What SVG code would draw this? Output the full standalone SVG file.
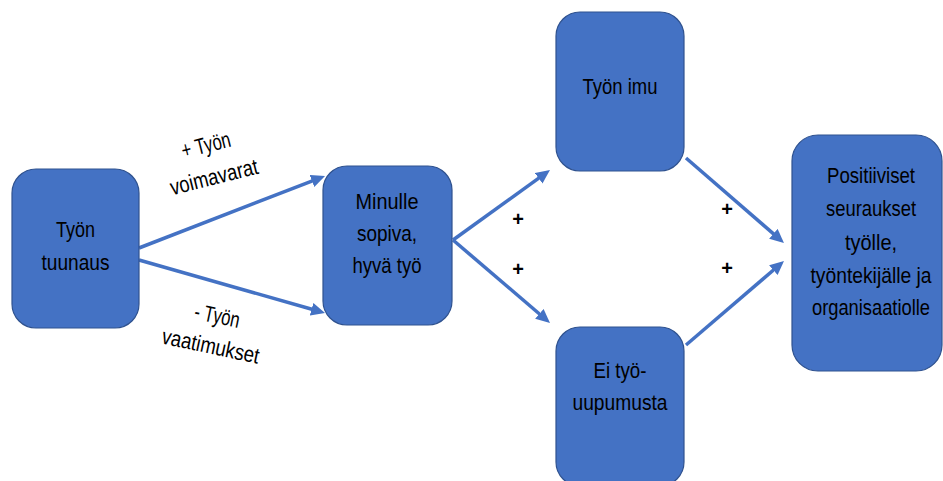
<svg xmlns="http://www.w3.org/2000/svg" width="943" height="481" viewBox="0 0 943 481">
  <style>
    .box { fill: #4472C4; stroke: #2F528F; stroke-width: 1.2; }
    .lbl { font-family: "Liberation Sans", Arial, sans-serif; font-size: 22.5px; fill: #000; text-anchor: middle; }
    .plus { font-family: "Liberation Sans", Arial, sans-serif; font-size: 20px; font-weight: bold; fill: #000; text-anchor: middle; }
    .link { stroke: #4472C4; stroke-width: 3.5; fill: none; marker-end: url(#head); }
  </style>
  <defs>
    <marker id="head" markerUnits="userSpaceOnUse" markerWidth="16" markerHeight="14" refX="4" refY="6.5" orient="auto">
      <path d="M0,0 L14,6.5 L0,13 z" fill="#4472C4"/>
    </marker>
  </defs>
  <rect width="943" height="481" fill="#fff"/>

  <g id="connectors">
    <line class="link" x1="139" y1="248" x2="315.7" y2="179.6"/>
    <line class="link" x1="139" y1="260" x2="315.4" y2="310.3"/>
    <line class="link" x1="453" y1="240" x2="541.9" y2="175.9"/>
    <line class="link" x1="453" y1="240" x2="542.4" y2="316.5"/>
    <line class="link" x1="686" y1="158" x2="776.4" y2="236.4"/>
    <line class="link" x1="686" y1="345" x2="776.4" y2="267.5"/>
    <g transform="translate(210,161) rotate(-14)">
      <text class="lbl" x="0" y="-9" textLength="50" lengthAdjust="spacingAndGlyphs">+ Työn</text>
      <text class="lbl" x="0" y="24" textLength="90" lengthAdjust="spacingAndGlyphs">voimavarat</text>
    </g>
    <g transform="translate(214,331) rotate(12)">
      <text class="lbl" x="0" y="-8" textLength="46" lengthAdjust="spacingAndGlyphs">- Työn</text>
      <text class="lbl" x="0" y="23" textLength="99" lengthAdjust="spacingAndGlyphs">vaatimukset</text>
    </g>
    <text class="plus" x="518" y="226">+</text>
    <text class="plus" x="518" y="276">+</text>
    <text class="plus" x="727" y="216">+</text>
    <text class="plus" x="727" y="275">+</text>
  </g>

  <g id="tuunaus">
    <rect class="box" x="12" y="169" width="127" height="159" rx="24"/>
    <text class="lbl" x="75.5" y="237" textLength="39" lengthAdjust="spacingAndGlyphs">Työn</text>
    <text class="lbl" x="75.5" y="270" textLength="68" lengthAdjust="spacingAndGlyphs">tuunaus</text>
  </g>

  <g id="sopiva">
    <rect class="box" x="323" y="166" width="129" height="159" rx="24"/>
    <text class="lbl" x="387" y="209" textLength="63" lengthAdjust="spacingAndGlyphs">Minulle</text>
    <text class="lbl" x="387" y="241" textLength="60" lengthAdjust="spacingAndGlyphs">sopiva,</text>
    <text class="lbl" x="387" y="273" textLength="69" lengthAdjust="spacingAndGlyphs">hyvä työ</text>
  </g>

  <g id="imu">
    <rect class="box" x="556" y="12" width="128" height="159" rx="24"/>
    <text class="lbl" x="620" y="94" textLength="75" lengthAdjust="spacingAndGlyphs">Työn imu</text>
  </g>

  <g id="uupumus">
    <rect class="box" x="556" y="327" width="128" height="159" rx="24"/>
    <text class="lbl" x="620" y="378" textLength="53" lengthAdjust="spacingAndGlyphs">Ei työ-</text>
    <text class="lbl" x="620" y="410" textLength="95" lengthAdjust="spacingAndGlyphs">uupumusta</text>
  </g>

  <g id="seuraukset">
    <rect class="box" x="792" y="135" width="150" height="236" rx="26"/>
    <text class="lbl" x="871" y="183" textLength="88" lengthAdjust="spacingAndGlyphs">Positiiviset</text>
    <text class="lbl" x="871" y="216" textLength="90" lengthAdjust="spacingAndGlyphs">seuraukset</text>
    <text class="lbl" x="871" y="250" textLength="52" lengthAdjust="spacingAndGlyphs">työlle,</text>
    <text class="lbl" x="871" y="283" textLength="121" lengthAdjust="spacingAndGlyphs">työntekijälle ja</text>
    <text class="lbl" x="871" y="315" textLength="118" lengthAdjust="spacingAndGlyphs">organisaatiolle</text>
  </g>
</svg>
